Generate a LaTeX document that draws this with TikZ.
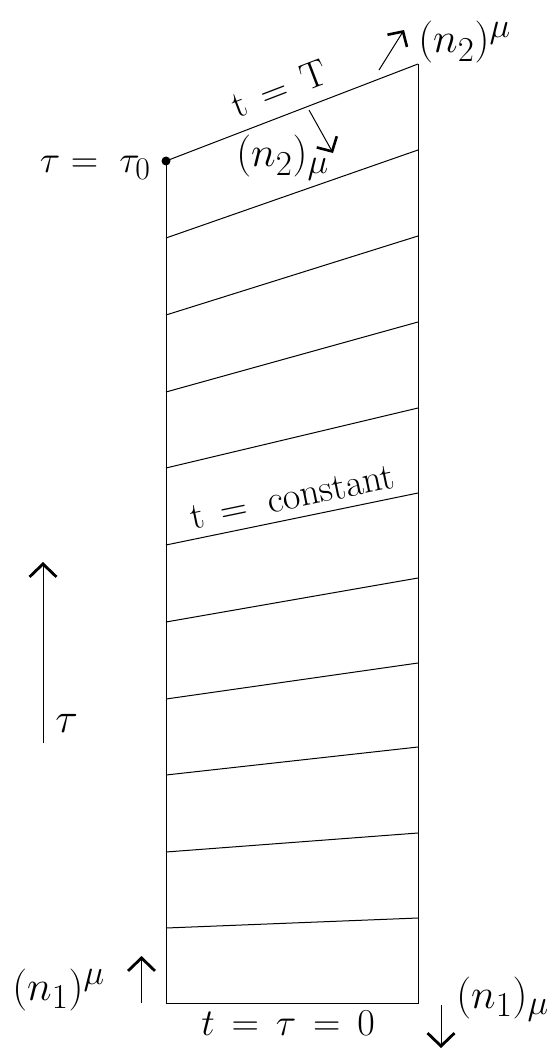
\documentclass[tikz,border=0pt]{standalone}
\usetikzlibrary{arrows.meta}
\begin{document}
\begin{tikzpicture}[x=1pt,y=-1pt,
  edge/.style={line width=1pt},
  lbl/.style={inner sep=0pt,font=\Huge,scale=1.527},
  nlbl/.style={inner sep=0pt,font=\Huge,scale=1.688},
  bigarrow/.style={line width=1pt,-{Straight Barb[length=13pt,width=27pt,line width=2.8pt]}},
  smallarrow/.style={line width=1pt,-{Straight Barb[length=11pt,width=23pt,line width=2.6pt]}}]
\useasboundingbox (0,0) rectangle (554,1051);
% corners / rung end points
\foreach \i/\l/\r in {0/161/64,1/238/150,2/315/236,3/392/322,4/468/408,5/545/493,6/622/578,7/699/663,8/775/747,9/852/833,10/928/918,11/1003/1003}{
  \coordinate (L\i) at (166,\l);
  \coordinate (R\i) at (418,\r);
}
\draw[edge] (L0) -- (L11) -- (R11) -- (R0);
\foreach \i in {0,...,10}{ \draw[edge] (L\i) -- (R\i); }
\fill (L0) circle (4.5pt);
% labels
\node[lbl,anchor=base east] (tau0) at (151,172) {$\tau = \; \tau_0$};
\node[lbl,rotate=21] (tT) at (279,88) {$\mathrm{t} \,=\, \mathrm{T}$};
\node[nlbl,anchor=base west] (n2up) at (418,53) {$(n_2)^{\mu}$};
\node[nlbl,anchor=base west] (n2dn) at (236,167) {$(n_2)_{\mu}$};
\node[lbl,rotate=11.7] (tconst) at (292,497) {$\mathrm{t}\,=\;\mathrm{constant}$};
\node[nlbl,anchor=base west] (taul) at (55,732) {$\tau$};
\node[nlbl,anchor=base west] (n1up) at (12,1000) {$(n_1)^{\mu}$};
\node[lbl,anchor=base] (t0) at (288,1035) {$t \,=\, \tau \,=\, 0$};
\node[nlbl,anchor=base west] (n1dn) at (456,1008) {$(n_1)_{\mu}$};
% arrows
\coordinate (a1s) at (379,70); \coordinate (a1e) at (404,30);
\coordinate (a2s) at (309,110); \coordinate (a2e) at (333,153);
\coordinate (a3s) at (43,743); \coordinate (a3e) at (43,562);
\coordinate (a4s) at (141.5,1003); \coordinate (a4e) at (141.5,956);
\coordinate (a5s) at (441,1005); \coordinate (a5e) at (441,1048);
\draw[smallarrow] (a1s) -- (a1e);
\draw[smallarrow] (a2s) -- (a2e);
\draw[bigarrow] (a3s) -- (a3e);
\draw[bigarrow] (a4s) -- (a4e);
\draw[bigarrow] (a5s) -- (a5e);
\end{tikzpicture}
\end{document}
